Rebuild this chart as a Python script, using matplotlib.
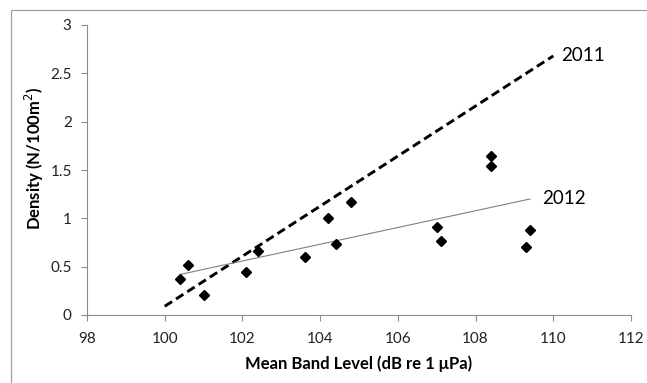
import matplotlib.pyplot as plt
from matplotlib.patches import Rectangle

# mean band level vs density
band_level = [100.4, 100.6, 101.0, 102.1, 102.4, 103.6, 104.2, 104.4, 104.8,
              107.0, 107.1, 108.4, 108.4, 109.3, 109.4]
density = [0.37, 0.52, 0.21, 0.45, 0.66, 0.60, 1.00, 0.73, 1.17,
           0.91, 0.77, 1.64, 1.54, 0.70, 0.88]

# trend lines (end points)
fit_2011_x = [100.0, 110.0]
fit_2011_y = [0.09, 2.68]
fit_2012_x = [100.4, 109.4]
fit_2012_y = [0.42, 1.20]

plt.rcParams['font.family'] = ['Lato', 'DejaVu Sans']
grey = '#8c8c8c'

fig = plt.figure(figsize=(6.47, 3.83), dpi=100)
ax = fig.add_axes([87/647, 1 - 315/383, 544/647, 290/383])

# outer chart border (left/top visible only, rest cropped)
fig.patches.append(Rectangle((10.5/647, -0.2), 1.5, 1.2 - 9.5/383, transform=fig.transFigure,
                             fill=False, edgecolor='#a0a0a0', linewidth=0.9))

ax.plot(fit_2011_x, fit_2011_y, color='black', lw=2.1, linestyle=(0, (3, 1.6)))
ax.plot(fit_2012_x, fit_2012_y, color='#808080', lw=0.8)
ax.plot(band_level, density, linestyle='none', marker='D', ms=5.2, color='black')

ax.text(110.2, 2.68, '2011', fontsize=13.5, va='center', ha='left')
ax.text(109.7, 1.20, '2012', fontsize=13.5, va='center', ha='left')

ax.set_xlim(98, 112)
ax.set_ylim(0, 3)
ax.set_xticks(range(98, 113, 2))
ax.set_yticks([0, 0.5, 1, 1.5, 2, 2.5, 3])
ax.set_yticklabels(['0', '0.5', '1', '1.5', '2', '2.5', '3'])

for s in ['top', 'right']:
    ax.spines[s].set_visible(False)
for s in ['left', 'bottom']:
    ax.spines[s].set_color(grey)
    ax.spines[s].set_linewidth(0.8)
ax.tick_params(axis='both', colors=grey, length=4, width=0.8, labelsize=11, labelcolor='#222222')
ax.tick_params(axis='x', pad=8)
ax.tick_params(axis='y', pad=7)

ax.set_xlabel('Mean Band Level (dB re 1 μPa)', fontsize=12, fontweight='bold', labelpad=7)
ax.set_ylabel('Density (N/100m$^{2}$)', fontsize=12, fontweight='bold')
ax.yaxis.set_label_coords(-0.076, 0.54)

plt.savefig('out.png', dpi=100, facecolor='white')
